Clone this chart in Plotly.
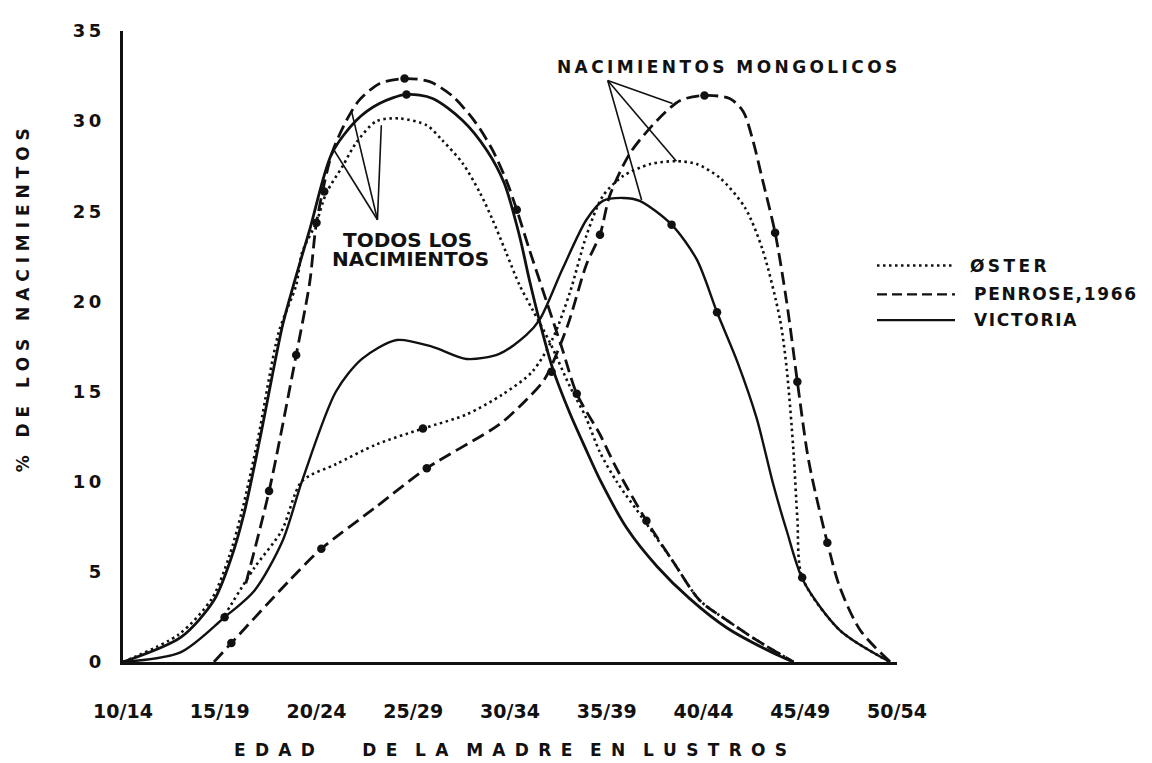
import plotly.graph_objects as go

# ---------------- data ----------------
age_groups = ["10/14", "15/19", "20/24", "25/29", "30/34", "35/39", "40/44", "45/49", "50/54"]
y_ticks = [0, 5, 10, 15, 20, 25, 30, 35]

# TODOS LOS NACIMIENTOS (all births); x = position on the age-group axis (0 = 10/14)
victoria_all_x = [0, 0.60, 0.94, 1.12, 1.25, 1.41, 1.65, 1.77, 1.93, 2.16, 2.41, 2.65, 2.93, 3.20,
                  3.51, 3.76, 3.94, 4.10, 4.20, 4.32, 4.44, 4.62, 4.78, 4.94, 5.21, 5.52, 5.86, 6.24, 6.72, 6.93]
victoria_all_y = [0, 1.38, 3.42, 5.79, 8.21, 12.24, 18.69, 21.06, 23.98, 28.22, 30.04, 30.98, 31.48, 31.26,
                  30.04, 28.39, 26.57, 23.60, 21.20, 18.60, 16.30, 13.78, 11.85, 10.00, 7.40, 5.30, 3.50, 1.90, 0.50, 0]

oster_all_x = [0, 0.58, 0.92, 1.10, 1.23, 1.39, 1.61, 1.79, 1.85, 2.00, 2.10, 2.27, 2.41, 2.62, 2.86, 3.14,
               3.30, 3.51, 3.69, 3.82, 3.96, 4.10, 4.23, 4.41, 4.62, 4.78, 4.93, 5.10, 5.39, 5.68, 5.96, 6.24, 6.55, 6.93]
oster_all_y = [0, 1.54, 3.53, 5.90, 8.38, 12.24, 18.30, 20.90, 22.70, 24.40, 26.00, 27.50, 28.80, 30.00, 30.15, 29.77,
               28.94, 27.67, 26.02, 24.53, 22.71, 20.89, 19.57, 17.75, 15.27, 13.62, 11.63, 10.03, 7.83, 5.62, 3.42, 2.32, 1.21, 0]

penrose_all_x = [1.27, 1.51, 1.79, 1.93, 2.00, 2.16, 2.31, 2.44, 2.65, 2.91, 3.17, 3.41, 3.65, 3.82, 3.96,
                 4.07, 4.20, 4.38, 4.54, 4.69, 4.93, 5.10, 5.41, 5.68, 5.96, 6.24, 6.55, 6.93]
penrose_all_y = [4.36, 9.48, 17.03, 21.06, 24.37, 28.22, 30.04, 31.15, 32.08, 32.36, 32.19, 31.37, 29.88, 28.39, 26.74,
                 25.08, 22.88, 19.96, 17.37, 14.88, 12.62, 10.75, 7.83, 5.62, 3.42, 2.32, 1.21, 0]

# NACIMIENTOS MONGOLICOS (mongoloid births)
victoria_mon_x = [0, 0.60, 1.05, 1.36, 1.65, 1.85, 2.20, 2.47, 2.83, 3.20, 3.55, 3.89, 4.17, 4.31, 4.54, 4.79,
                  4.96, 5.17, 5.34, 5.67, 5.93, 6.14, 6.35, 6.55, 6.72, 6.86, 7.03, 7.41, 7.93]
victoria_mon_y = [0, 0.55, 2.48, 3.97, 6.73, 10.03, 14.99, 16.81, 17.86, 17.48, 16.81, 17.09, 18.14, 19.02, 21.77, 24.53,
                  25.58, 25.74, 25.58, 24.26, 22.33, 19.40, 16.65, 13.51, 9.87, 7.28, 4.52, 1.76, 0]

oster_mon_x = [1.05, 1.36, 1.64, 1.85, 2.20, 2.62, 3.10, 3.55, 3.92, 4.23, 4.44, 4.62, 4.79, 4.96, 5.17, 5.45,
               5.72, 5.93, 6.17, 6.43, 6.61, 6.79, 6.86, 6.93, 6.97, 7.02, 7.41, 7.93]
oster_mon_y = [2.59, 5.24, 7.28, 10.03, 10.97, 12.07, 12.95, 13.73, 14.83, 16.10, 17.92, 20.51, 23.65, 25.85, 26.96, 27.62,
               27.78, 27.62, 26.85, 25.19, 22.88, 19.02, 16.26, 11.69, 7.99, 4.69, 1.76, 0]

penrose_mon_x = [0.94, 1.12, 1.72, 2.05, 2.60, 3.14, 3.89, 4.17, 4.36, 4.59, 4.79, 4.93, 5.03, 5.24, 5.52, 5.76,
                 6.01, 6.27, 6.41, 6.51, 6.61, 6.74, 6.86, 6.97, 7.07, 7.13, 7.28, 7.41, 7.62, 7.93]
penrose_mon_y = [0, 1.05, 4.52, 6.28, 8.54, 10.75, 13.18, 14.55, 15.71, 18.58, 22.05, 23.70, 25.85, 28.22, 30.04, 31.15,
                 31.42, 31.26, 30.54, 28.94, 26.74, 23.81, 19.96, 15.55, 11.69, 10.03, 6.62, 4.13, 1.76, 0]

# plotted data points (filled dots)
dots_x = [1.51, 1.79, 2.00, 2.91, 4.07, 4.69, 5.41,          # Penrose, all births
          2.93,                                              # Victoria, all births
          2.08,                                              # Oster, all births
          1.05, 5.67, 6.14,                                  # Victoria, mongoloid
          3.10, 7.02,                                        # Oster, mongoloid
          1.12, 2.05, 3.14, 4.43, 4.93, 6.01, 6.74, 6.97, 7.28]  # Penrose, mongoloid
dots_y = [9.48, 17.03, 24.37, 32.36, 25.08, 14.88, 7.83,
          31.48,
          26.10,
          2.48, 24.26, 19.40,
          12.95, 4.69,
          1.05, 6.28, 10.75, 16.10, 23.70, 31.42, 23.81, 15.55, 6.62]

# ---------------- layout helpers ----------------
OFF = 8                      # page body margin of the html page
W, H = 1152 - OFF, 763 - OFF
L, R, T, B = 115, 255, 19, 101
PW, PH = W - L - R, H - T - B


def pxx(xp):
    """screen pixel x -> paper x"""
    return (xp - OFF - L) / PW


def pyy(yp):
    """screen pixel y -> paper y"""
    return (OFF + T + PH - yp) / PH


NB = "\u00a0"
TH = "\u2009"
HS = "\u200a"


def spaced(text, letter_gap=TH, word_gap=NB):
    words = text.split(" ")
    return word_gap.join(letter_gap.join(w) for w in words)


FONT = "DejaVu Sans"
BLACK = "#111111"

DOT = "2.5px,3.5px"
DASH = "13px,6px"

fig = go.Figure()

series = [
    (oster_all_x, oster_all_y, DOT, 2.6),
    (penrose_all_x, penrose_all_y, DASH, 2.8),
    (victoria_all_x, victoria_all_y, "solid", 2.8),
    (oster_mon_x, oster_mon_y, DOT, 2.6),
    (penrose_mon_x, penrose_mon_y, DASH, 2.8),
    (victoria_mon_x, victoria_mon_y, "solid", 2.4),
]
for xs, ys, dash, w in series:
    fig.add_trace(go.Scatter(
        x=xs, y=ys, mode="lines",
        line=dict(color=BLACK, width=w, dash=dash, shape="spline", smoothing=0.8),
        cliponaxis=False, showlegend=False, hoverinfo="skip"))

fig.add_trace(go.Scatter(
    x=dots_x, y=dots_y, mode="markers",
    marker=dict(color=BLACK, size=8.5),
    cliponaxis=False, showlegend=False, hoverinfo="skip"))

shapes = []
annotations = []

# pointer lines: "NACIMIENTOS MONGOLICOS"
mon_apex = (5.01, 32.25)
for end in [(5.68, 30.98), (5.72, 27.78), (5.36, 25.63)]:
    shapes.append(dict(type="line", xref="x", yref="y", x0=mon_apex[0], y0=mon_apex[1],
                       x1=end[0], y1=end[1], line=dict(color=BLACK, width=1.6)))
# pointer lines: "TODOS LOS NACIMIENTOS"
all_apex = (2.63, 24.53)
for end in [(2.67, 29.77), (2.36, 30.60), (2.18, 28.40)]:
    shapes.append(dict(type="line", xref="x", yref="y", x0=all_apex[0], y0=all_apex[1],
                       x1=end[0], y1=end[1], line=dict(color=BLACK, width=1.6)))

# legend (drawn by hand, like the original)
legend_items = [("ØSTER", DOT, 263, 968, TH), ("PENROSE,1966", "10px,5px", 292, 972, HS),
                ("VICTORIA", "solid", 318, 972, HS)]
for label, dash, ypix, xtext, gap in legend_items:
    shapes.append(dict(type="line", xref="paper", yref="paper", x0=pxx(877), x1=pxx(955),
                       y0=pyy(ypix), y1=pyy(ypix), line=dict(color=BLACK, width=2.4, dash=dash)))
    annotations.append(dict(xref="paper", yref="paper", x=pxx(xtext), y=pyy(ypix), text=spaced(label, gap),
                            xanchor="left", yanchor="middle", showarrow=False,
                            font=dict(family=FONT, size=17, color=BLACK, weight="bold")))

annotations.append(dict(xref="paper", yref="paper", x=pxx(555), y=pyy(63),
                        text=spaced("NACIMIENTOS MONGOLICOS", TH, NB + NB),
                        xanchor="left", yanchor="middle", showarrow=False,
                        font=dict(family=FONT, size=17, color=BLACK, weight="bold")))
annotations.append(dict(xref="paper", yref="paper", x=pxx(407), y=pyy(237), text="TODOS LOS",
                        xanchor="center", yanchor="middle", showarrow=False,
                        font=dict(family=FONT, size=20, color=BLACK, weight="bold")))
annotations.append(dict(xref="paper", yref="paper", x=pxx(410), y=pyy(256), text="NACIMIENTOS",
                        xanchor="center", yanchor="middle", showarrow=False,
                        font=dict(family=FONT, size=20, color=BLACK, weight="bold")))

# axis titles
annotations.append(dict(xref="paper", yref="paper", x=pxx(232), y=pyy(751),
                        text=spaced("EDAD", NB + TH, "") + NB * 8 +
                        spaced("DE LA MADRE EN LUSTROS", NB + TH, NB * 3),
                        xanchor="left", yanchor="middle", showarrow=False,
                        font=dict(family=FONT, size=17, color=BLACK, weight="bold")))
annotations.append(dict(xref="paper", yref="paper", x=pxx(23), y=pyy(298),
                        text=spaced("% DE LOS NACIMIENTOS", NB, NB * 3), textangle=-90,
                        xanchor="center", yanchor="middle", showarrow=False,
                        font=dict(family=FONT, size=17, color=BLACK, weight="bold")))

fig.update_layout(
    width=W, height=H,
    margin=dict(l=L, r=R, t=T, b=B, pad=0),
    paper_bgcolor="white", plot_bgcolor="white",
    shapes=shapes, annotations=annotations,
    showlegend=False,
    xaxis=dict(range=[0, 8], tickvals=list(range(len(age_groups))), ticktext=age_groups,
               showgrid=False, zeroline=False, showline=True, linecolor=BLACK, linewidth=3,
               ticks="", ticklabelstandoff=30,
               tickfont=dict(family=FONT, size=19, color=BLACK, weight="bold")),
    yaxis=dict(range=[0, 35], tickvals=y_ticks, ticktext=[TH.join(str(v)) for v in y_ticks],
               showgrid=False, zeroline=False, showline=True, linecolor=BLACK, linewidth=3,
               ticks="", ticklabelstandoff=15,
               tickfont=dict(family=FONT, size=18, color=BLACK, weight="bold")),
)

fig.write_html("out.html")
